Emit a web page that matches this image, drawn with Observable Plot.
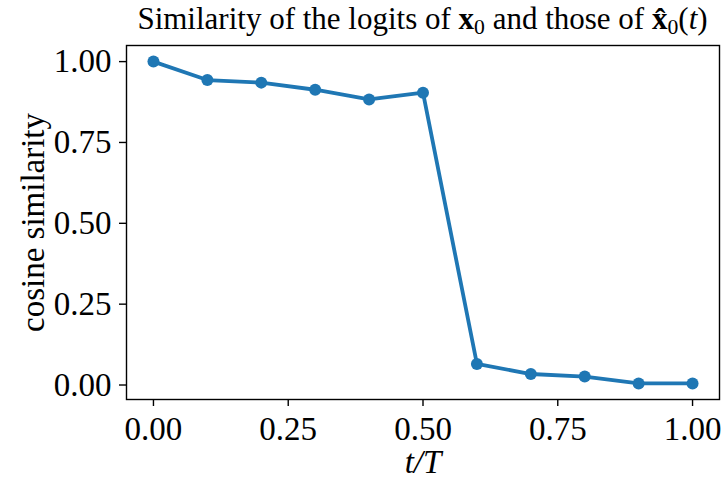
<!DOCTYPE html>
<html>
<head>
<meta charset="utf-8">
<script src="https://cdn.jsdelivr.net/npm/d3@7"></script>
<script src="https://cdn.jsdelivr.net/npm/@observablehq/plot@0.6"></script>
<style>
  html, body { margin: 0; padding: 0; background: #fff; }
  #wrap { width: 724px; height: 487px; overflow: hidden; }
  #title {
    box-sizing: border-box; width: 724px; height: 40px;
    padding: 3px 5px 0 126px; text-align: center;
    font-family: "Liberation Serif", serif; font-size: 31px; line-height: 32px;
    color: #000; white-space: nowrap;
  }
  #title sub { font-size: 0.7em; line-height: 0; vertical-align: -0.25em; }
  svg { display: block; overflow: visible; }
</style>
</head>
<body>
<div id="wrap">
  <div id="title">Similarity of the logits of <b>x</b><sub>0</sub> and those of <b>x̂</b><sub>0</sub>(<i>t</i>)</div>
  <div id="chart"></div>
</div>
<script>
const tValues = [0.0, 0.1, 0.2, 0.3, 0.4, 0.5, 0.6, 0.7, 0.8, 0.9, 1.0];
const similarity = [1.0, 0.943, 0.935, 0.913, 0.883, 0.904, 0.065, 0.034, 0.026, 0.005, 0.005];
const xTicks = [0, 0.25, 0.5, 0.75, 1.0];
const yTicks = [0, 0.25, 0.5, 0.75, 1.0];
const xLabel = "t/T";
const yLabel = "cosine similarity";
const color = "#1f77b4";

const data = tValues.map((t, i) => ({t, s: similarity[i]}));

const chart = Plot.plot({
  width: 724,
  height: 447,
  marginTop: 5,
  marginBottom: 88,
  marginLeft: 126,
  marginRight: 5,
  style: {fontFamily: "Liberation Serif, serif", fontSize: "33px", color: "#000", background: "#fff"},
  x: {domain: [-0.05, 1.05]},
  y: {domain: [-0.0448, 1.0498]},
  marks: [
    Plot.frame({stroke: "#000", strokeWidth: 1.4}),
    Plot.axisX({ticks: xTicks, tickFormat: d3.format(".2f"), tickSize: 7, tickPadding: 10, label: null, fontSize: 33, strokeWidth: 1.4}),
    Plot.axisY({ticks: yTicks, tickFormat: d3.format(".2f"), tickSize: 7, tickPadding: 8, label: null, fontSize: 33, strokeWidth: 1.4}),
    Plot.text([xLabel], {frameAnchor: "bottom", dy: 63, lineAnchor: "middle", textAnchor: "middle", fontSize: 33, fontStyle: "italic", text: d => d}),
    Plot.text([yLabel], {frameAnchor: "left", dx: -93, rotate: -90, textAnchor: "middle", lineAnchor: "middle", fontSize: 33, text: d => d}),
    Plot.line(data, {x: "t", y: "s", stroke: color, strokeWidth: 3.8}),
    Plot.dot(data, {x: "t", y: "s", fill: color, r: 6})
  ]
});
document.getElementById("chart").appendChild(chart);
</script>
</body>
</html>
